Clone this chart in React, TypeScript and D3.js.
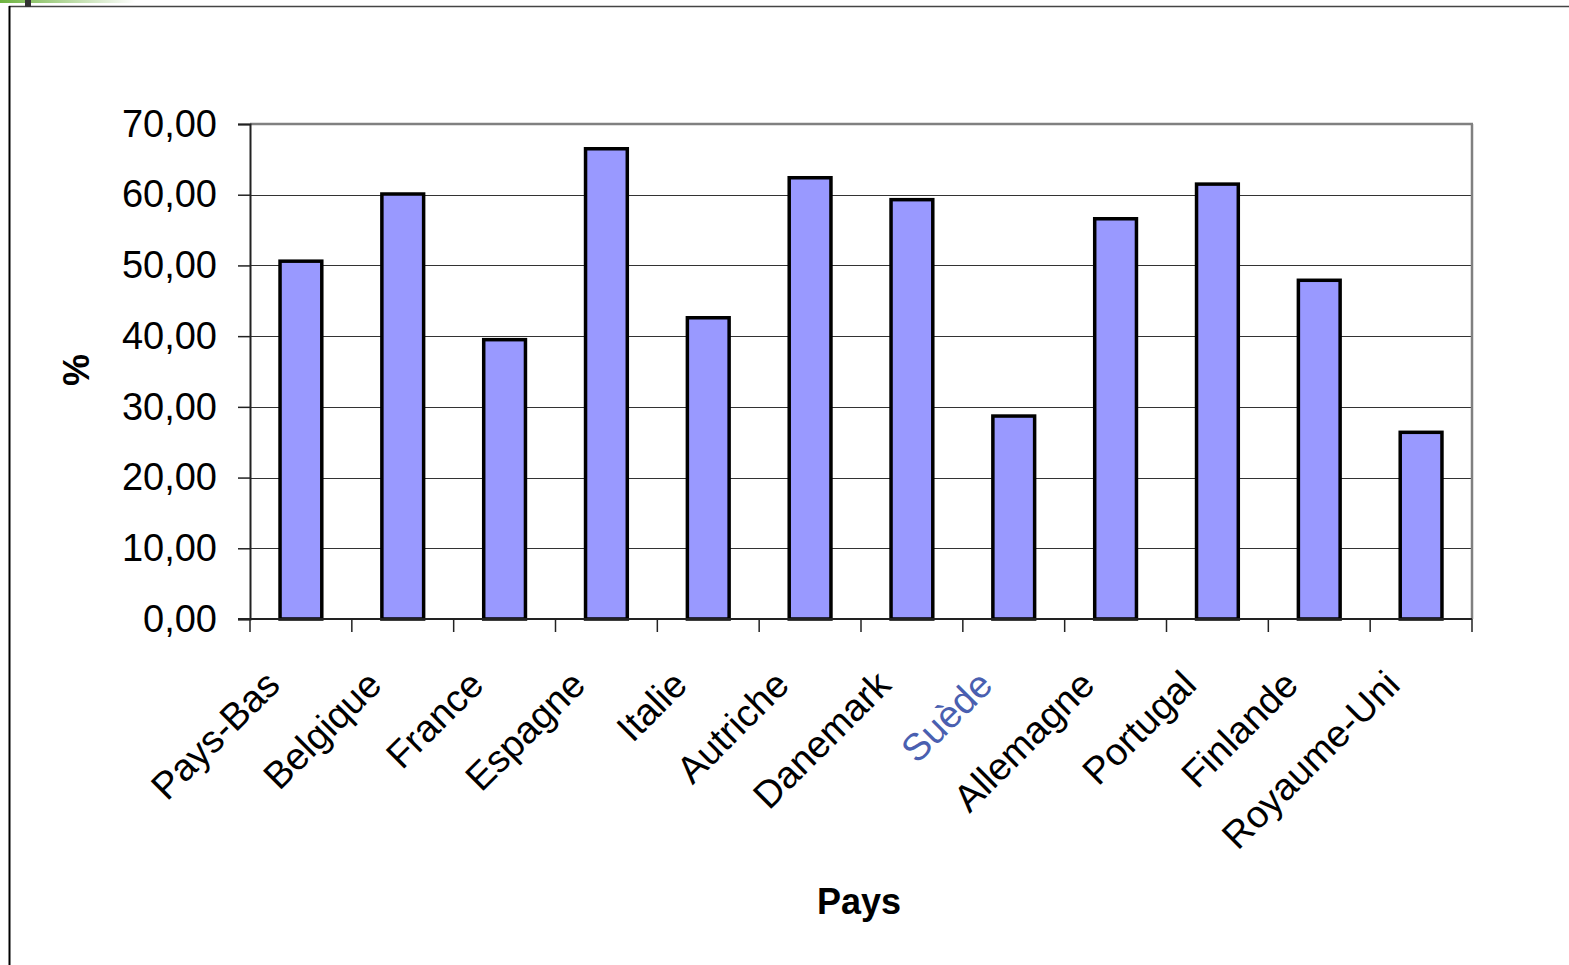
import React, { useEffect, useRef } from 'react';
import * as d3 from 'd3';

const countries = ['Pays-Bas', 'Belgique', 'France', 'Espagne', 'Italie', 'Autriche', 'Danemark', 'Suède', 'Allemagne', 'Portugal', 'Finlande', 'Royaume-Uni'];
const values = [50.6, 60.1, 39.5, 66.5, 42.6, 62.4, 59.3, 28.7, 56.6, 61.5, 47.9, 26.4];
const yTicks = [0, 10, 20, 30, 40, 50, 60, 70];

const App = () => {
  const svgRef = useRef<SVGSVGElement>(null);

  useEffect(() => {
    const svg = d3.select(svgRef.current);
    svg.selectAll('*').remove();

    const width = 1569;
    const height = 965;
    const margin = { top: 124, right: 97, bottom: 346, left: 250 };
    const font = 'Arial, "Liberation Sans", sans-serif';

    svg.append('rect').attr('width', width).attr('height', height).attr('fill', 'white');

    // décor du cadre (coin haut gauche)
    const grad = svg.append('defs').append('linearGradient').attr('id', 'greenfade');
    grad.append('stop').attr('offset', '0%').attr('stop-color', '#6db33f');
    grad.append('stop').attr('offset', '100%').attr('stop-color', '#6db33f').attr('stop-opacity', 0);
    svg.append('rect').attr('x', 0).attr('y', 0).attr('width', 135).attr('height', 3).attr('fill', 'url(#greenfade)');
    svg.append('line').attr('x1', 9).attr('x2', width).attr('y1', 6.5).attr('y2', 6.5).attr('stroke', '#444').attr('stroke-width', 1.5);
    svg.append('line').attr('x1', 9.5).attr('x2', 9.5).attr('y1', 6).attr('y2', height).attr('stroke', '#000').attr('stroke-width', 2);
    svg.append('rect').attr('x', 25).attr('y', 0).attr('width', 6).attr('height', 7).attr('fill', '#333');

    const x = d3.scaleBand()
      .domain(countries)
      .range([margin.left, width - margin.right])
      .paddingInner(0.59)
      .paddingOuter(0.295);

    const y = d3.scaleLinear()
      .domain([0, 70])
      .range([height - margin.bottom, margin.top]);

    const x0 = margin.left;
    const x1 = width - margin.right;
    const y0 = y(0);

    // grille
    svg.append('g')
      .selectAll('line')
      .data(yTicks.filter(d => d > 0 && d < 70))
      .enter()
      .append('line')
      .attr('x1', x0).attr('x2', x1)
      .attr('y1', d => Math.round(y(d)) + 0.5).attr('y2', d => Math.round(y(d)) + 0.5)
      .attr('stroke', '#333').attr('stroke-width', 1);

    // bordure haut et droite
    svg.append('line').attr('x1', x0).attr('x2', x1 + 1).attr('y1', y(70)).attr('y2', y(70)).attr('stroke', '#808080').attr('stroke-width', 2.5);
    svg.append('line').attr('x1', x1).attr('x2', x1).attr('y1', y(70)).attr('y2', y0).attr('stroke', '#808080').attr('stroke-width', 2.5);

    // barres
    svg.selectAll('.bar')
      .data(values)
      .enter()
      .append('rect')
      .attr('class', 'bar')
      .attr('x', (d, i) => x(countries[i]))
      .attr('y', d => y(d))
      .attr('width', x.bandwidth())
      .attr('height', d => y0 - y(d))
      .attr('fill', '#9999ff')
      .attr('stroke', '#000')
      .attr('stroke-width', 3.5);

    // axe Y
    const yAxis = svg.append('g')
      .attr('transform', `translate(${x0},0)`)
      .call(d3.axisLeft(y).tickValues(yTicks).tickSize(12).tickPadding(21).tickFormat(d => d3.format('.2f')(d as number).replace('.', ',')));
    yAxis.select('.domain').attr('stroke', '#222').attr('stroke-width', 2);
    yAxis.selectAll('.tick line').attr('stroke', '#222').attr('stroke-width', 1.5);
    yAxis.selectAll('text').attr('font-family', font).attr('font-size', 38).attr('fill', '#000');

    // axe X
    const step = x.step();
    const tickPos = d3.range(countries.length + 1).map(i => x0 + i * step);
    svg.append('line').attr('x1', x0 - 12).attr('x2', x1).attr('y1', y0).attr('y2', y0).attr('stroke', '#222').attr('stroke-width', 2);
    svg.append('g')
      .selectAll('line')
      .data(tickPos)
      .enter()
      .append('line')
      .attr('x1', d => d).attr('x2', d => d)
      .attr('y1', y0).attr('y2', y0 + 13)
      .attr('stroke', '#222').attr('stroke-width', 1.5);

    svg.append('g')
      .selectAll('text')
      .data(countries)
      .enter()
      .append('text')
      .attr('transform', d => `translate(${(x(d) as number) + x.bandwidth() / 2 - 19},${y0 + 68}) rotate(-45)`)
      .attr('text-anchor', 'end')
      .attr('font-family', font)
      .attr('font-size', 38)
      .attr('fill', d => (d === 'Suède' ? '#4a5fb0' : '#000'))
      .text(d => d);

    // titres des axes
    svg.append('text')
      .attr('transform', 'translate(89,370) rotate(-90)')
      .attr('text-anchor', 'middle')
      .attr('font-family', font)
      .attr('font-weight', 'bold')
      .attr('font-size', 36)
      .text('%');

    svg.append('text')
      .attr('x', 859)
      .attr('y', 914)
      .attr('text-anchor', 'middle')
      .attr('font-family', font)
      .attr('font-weight', 'bold')
      .attr('font-size', 36)
      .text('Pays');
  }, []);

  return <svg ref={svgRef} width="1569" height="965" style={{ position: 'absolute', left: 0, top: 0 }}></svg>;
};

export default App;
